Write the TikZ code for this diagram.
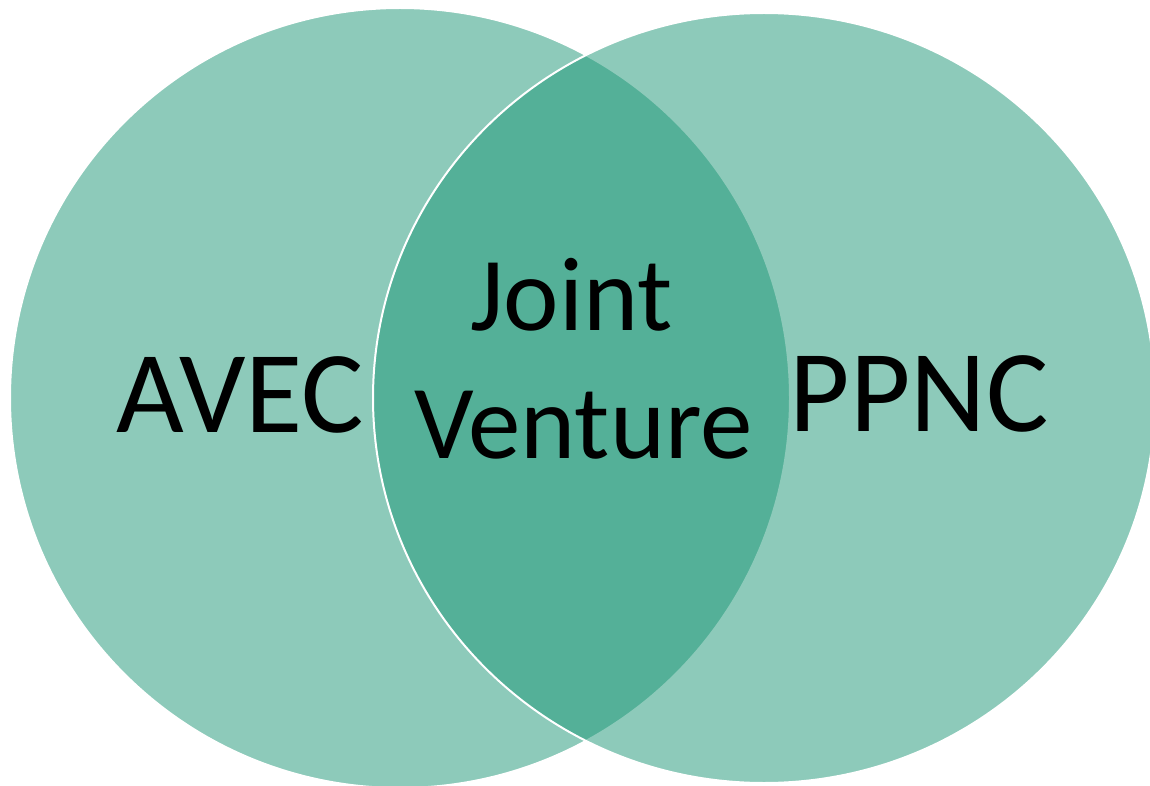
\documentclass[tikz,border=0pt]{standalone}
\usepackage{fontspec}
\setmainfont{Carlito}
\definecolor{jvgreen}{RGB}{29,151,119}
\tikzset{
  setcircle/.style={fill=jvgreen, fill opacity=0.5, draw=white, line width=2pt},
  biglabel/.style={anchor=base, inner sep=0pt, text=black, font=\fontsize{117}{140}\selectfont},
  midlabel/.style={anchor=base, inner sep=0pt, text=black, font=\fontsize{105}{128}\selectfont}
}
\begin{document}
\begin{tikzpicture}[x=1pt,y=-1pt]
  \useasboundingbox (0,0) rectangle (1150,786);
  \clip (0,0) rectangle (1150,786);
  \fill[white] (0,0) rectangle (1150,786);
  \path[setcircle] (400,398) circle [radius=390];
  \path[setcircle] (764,398) ellipse [x radius=391, y radius=385];
  \node[biglabel] (avec) at (240.5,432) {AVEC};
  \node[biglabel] (ppnc) at (919,431) {PPNC};
  \node[midlabel] (joint) at (571.5,330) {Joint};
  \node[midlabel] (venture) at (583.5,458) {Venture};
\end{tikzpicture}
\end{document}
